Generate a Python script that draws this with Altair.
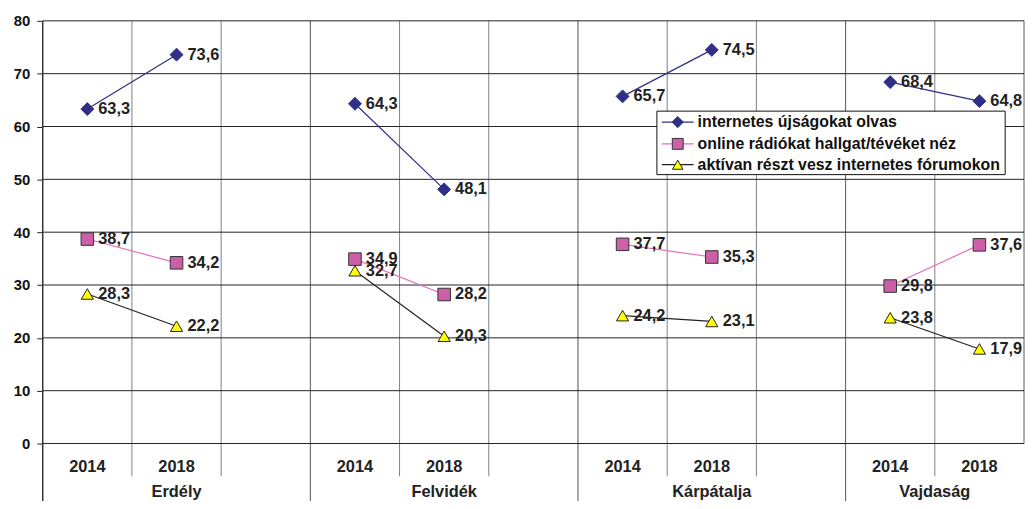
import altair as alt
import pandas as pd

# ---------------- data ----------------
regions = ["Erdély", "Felvidék", "Kárpátalja", "Vajdaság"]
years = ["2014", "2018"]
series_names = [
    "internetes újságokat olvas",
    "online rádiókat hallgat/tévéket néz",
    "aktívan részt vesz internetes fórumokon",
]
news = [63.3, 73.6, 64.3, 48.1, 65.7, 74.5, 68.4, 64.8]
radio = [38.7, 34.2, 34.9, 28.2, 37.7, 35.3, 29.8, 37.6]
forum = [28.3, 22.2, 32.7, 20.3, 24.2, 23.1, 23.8, 17.9]
y_ticks = [0, 10, 20, 30, 40, 50, 60, 70, 80]

# ---------------- styling ----------------
FONT = "Liberation Sans"
styles = [
    dict(shape="diamond", fill="#2f2f85", stroke="#2f2f85", line="#2f2f85", size=170),
    dict(shape="square", fill="#cc5fa8", stroke="#333333", line="#e070c0", size=160),
    dict(shape="triangle-up", fill="#ffff00", stroke="#222222", line="#222222", size=150),
]

# slot layout: each region = 2 year slots + 1 blank slot (last region has no blank)
n_slots = 3 * len(regions) - 1
rows = []
for s_i, (name, vals) in enumerate(zip(series_names, [news, radio, forum])):
    for r_i, reg in enumerate(regions):
        for y_i, yr in enumerate(years):
            v = vals[r_i * 2 + y_i]
            rows.append(dict(series=name, region=reg, year=yr,
                             pos=r_i * 3 + y_i + 0.5, value=v,
                             label=f"{v:.1f}".replace(".", ",")))
df = pd.DataFrame(rows)

year_df = pd.DataFrame([dict(pos=r_i * 3 + y_i + 0.5, year=yr)
                        for r_i in range(len(regions)) for y_i, yr in enumerate(years)])
group_df = pd.DataFrame([dict(region=reg, pos=(r_i * 3 + min(r_i * 3 + 3, n_slots)) / 2)
                         for r_i, reg in enumerate(regions)])
group_bounds = [r_i * 3 for r_i in range(len(regions))]
inner_bounds = [b for b in range(1, n_slots) if b not in group_bounds]
vgrid_df = pd.DataFrame(dict(pos=inner_bounds))
gsep_df = pd.DataFrame(dict(pos=group_bounds[1:]))
axis0_df = pd.DataFrame(dict(pos=[0]))
right_df = pd.DataFrame(dict(pos=[n_slots]))

W, H = 989, 426
xs = alt.Scale(domain=[0, n_slots], nice=False, zero=False)
ys = alt.Scale(domain=[0, 80], nice=False, zero=True)
X = alt.X("pos:Q", scale=xs, axis=None)

layers = []

# vertical gridlines inside plot (gray)
layers.append(alt.Chart(vgrid_df).mark_rule(color="#808080", strokeWidth=1).encode(
    x=X, y=alt.value(0), y2=alt.value(H + 33)))
layers.append(alt.Chart(gsep_df).mark_rule(color="#555555", strokeWidth=1).encode(
    x=X, y=alt.value(0), y2=alt.value(H + 70)))
layers.append(alt.Chart(right_df).mark_rule(color="#909090", strokeWidth=1.5).encode(
    x=X, y=alt.value(0), y2=alt.value(H)))

# horizontal gridlines + y axis
layers.append(alt.Chart(pd.DataFrame(dict(v=y_ticks))).mark_rule(color="#222222", strokeWidth=1).encode(
    y=alt.Y("v:Q", scale=ys,
            axis=alt.Axis(values=y_ticks, grid=False, domain=False, ticks=True, tickSize=6,
                          tickColor="#222222", labelFont=FONT, labelFontSize=15,
                          labelFontWeight="bold", labelColor="#111111", labelPadding=7,
                          title=None)),
    x=alt.value(0), x2=alt.value(W)))
# left axis line
layers.append(alt.Chart(axis0_df).mark_rule(color="#333333", strokeWidth=1.5).encode(
    x=X, y=alt.value(0), y2=alt.value(H + 70)))

# series
for name, st in zip(series_names, styles):
    sub = df[df.series == name]
    base = alt.Chart(sub)
    layers.append(base.mark_line(color=st["line"], strokeWidth=1.2).encode(
        x=X, y=alt.Y("value:Q", scale=ys), detail="region:N"))
    layers.append(base.mark_point(shape=st["shape"], filled=True, fill=st["fill"],
                                  stroke=st["stroke"], strokeWidth=1, size=st["size"],
                                  opacity=1).encode(
        x=X, y=alt.Y("value:Q", scale=ys)))
    layers.append(base.mark_text(align="left", baseline="middle", dx=11, font=FONT,
                                 fontSize=16.5, fontWeight="bold", color="#222222").encode(
        x=X, y=alt.Y("value:Q", scale=ys), text="label:N"))

# category axis labels
layers.append(alt.Chart(year_df).mark_text(align="center", baseline="middle", font=FONT,
                                           fontSize=16.5, fontWeight="bold", color="#222222").encode(
    x=X, y=alt.value(H + 24), text="year:N"))
layers.append(alt.Chart(group_df).mark_text(align="center", baseline="middle", font=FONT,
                                            fontSize=16.5, fontWeight="bold", color="#222222").encode(
    x=X, y=alt.value(H + 49), text="region:N"))

# legend (manual, line + marker symbols)
LX0, LX1, LY0, LY1 = 619, 970, 91, 155
leg_y = [102, 124, 145]
layers.append(alt.Chart(pd.DataFrame(dict(a=[0]))).mark_rect(
    fill="white", stroke="#111111", strokeWidth=1).encode(
    x=alt.value(LX0), x2=alt.value(LX1), y=alt.value(LY0), y2=alt.value(LY1)))
for name, st, ly in zip(series_names, styles, leg_y):
    one = alt.Chart(pd.DataFrame(dict(series=[name])))
    layers.append(one.mark_rule(color=st["line"], strokeWidth=1.2).encode(
        x=alt.value(LX0 + 5), x2=alt.value(LX0 + 37), y=alt.value(ly)))
    layers.append(one.mark_point(shape=st["shape"], filled=True, fill=st["fill"],
                                 stroke=st["stroke"], strokeWidth=1, size=st["size"] * 0.75,
                                 opacity=1).encode(
        x=alt.value(LX0 + 21), y=alt.value(ly)))
    layers.append(one.mark_text(align="left", baseline="middle", font=FONT, fontSize=16,
                                fontWeight="bold", color="#111111").encode(
        x=alt.value(LX0 + 41), y=alt.value(ly), text="series:N"))

chart = alt.layer(*layers).properties(
    width=W, height=H,
    autosize=alt.AutoSizeParams(type="none"),
    padding={"left": 35, "top": 11, "right": 2, "bottom": 56},
    background="white",
).configure_view(stroke=None)

chart.save("out.html", embed_options={"renderer": "svg", "actions": False})
